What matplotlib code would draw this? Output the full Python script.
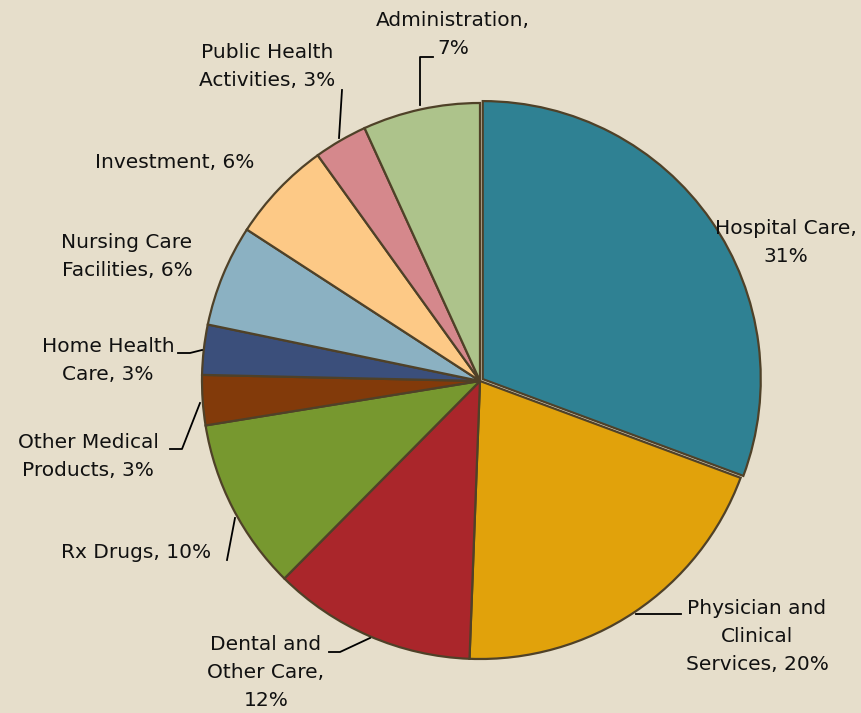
import numpy as np
import matplotlib.pyplot as plt

# DATA (share of spending)
categories = ["Hospital Care", "Physician and Clinical Services", "Dental and Other Care",
              "Rx Drugs", "Other Medical Products", "Home Health Care",
              "Nursing Care Facilities", "Investment", "Public Health Activities",
              "Administration"]
shares = [30.6, 19.9, 11.8, 10.0, 2.9, 2.9, 5.9, 5.9, 3.1, 6.8]
label_texts = ["Hospital Care,\n31%", "Physician and\nClinical\nServices, 20%",
               "Dental and\nOther Care,\n12%", "Rx Drugs, 10%",
               "Other Medical\nProducts, 3%", "Home Health\nCare, 3%",
               "Nursing Care\nFacilities, 6%", "Investment, 6%",
               "Public Health\nActivities, 3%", "Administration,\n7%"]

colors = ["#2F8193", "#E1A20B", "#AA262B", "#77982F", "#823A0A",
          "#3B4F7B", "#8BB1C2", "#FDC986", "#D5888C", "#ADC38B"]

BG = "#E6DECB"
W, H = 862, 713
CX, CY, R = 480, 381, 278   # pie centre / radius in pixels


def px(x, y):
    """pixel position -> data coords (1 unit = pie radius)"""
    return (x - CX) / R, (CY - y) / R


# label text centres and leader line points (pixels), None = no leader
label_pos = [(786, 242), (757, 636), (266, 673), (136, 552), (88, 457),
             (108, 360), (127, 257), (175, 162), (267, 67), (453, 34)]
leaders = [None,
           [(636, 614), (681, 614)],
           [(370, 638), (340, 652), (329, 652)],
           [(235, 518), (227, 560)],
           [(200, 403), (182, 449), (170, 449)],
           [(202, 350), (190, 353), (178, 353)],
           None, None,
           [(339, 138), (342, 90)],
           [(420, 105), (420, 57), (433, 57)]]

fig = plt.figure(figsize=(W / 100, H / 100), dpi=100)
fig.patch.set_facecolor(BG)
ax = fig.add_axes([0, 0, 1, 1])
ax.set_facecolor(BG)

explode = [0.012] + [0] * (len(shares) - 1)
ax.pie(shares, colors=colors, startangle=90, counterclock=False, explode=explode,
       radius=1.0, wedgeprops=dict(edgecolor="#4F4128", linewidth=1.6))

ax.set_xlim(-CX / R, (W - CX) / R)
ax.set_ylim(-(H - CY) / R, CY / R)
ax.axis("off")

for txt, pos, lead in zip(label_texts, label_pos, leaders):
    x, y = px(*pos)
    ax.text(x, y, txt, ha="center", va="center", fontsize=14.5,
            linespacing=1.6, color="#111111", family="DejaVu Sans")
    if lead:
        pts = np.array([px(*p) for p in lead])
        ax.plot(pts[:, 0], pts[:, 1], color="black", lw=1.3)

fig.savefig("out.png", dpi=100, facecolor=BG)
